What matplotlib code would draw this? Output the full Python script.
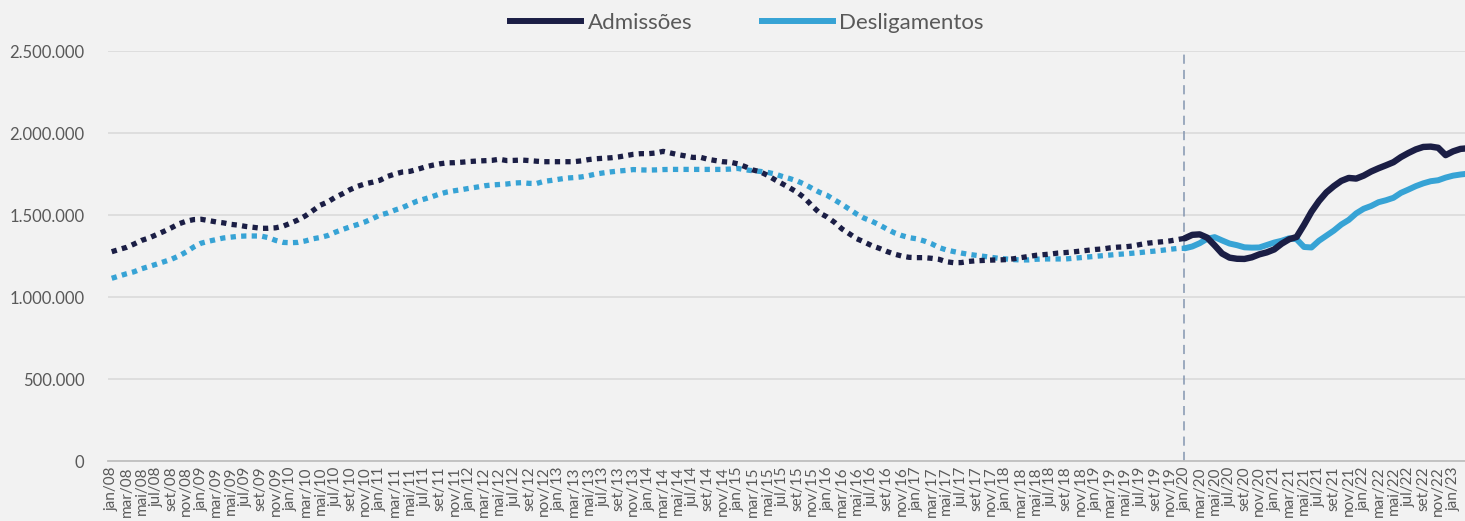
import matplotlib
matplotlib.use("Agg")
import matplotlib.pyplot as plt
from matplotlib.lines import Line2D

# ---------------- data (thousands) ----------------
meses = ["jan", "fev", "mar", "abr", "mai", "jun", "jul", "ago", "set", "out", "nov", "dez"]
anos = list(range(2008, 2024))
periodos = [f"{m}/{str(a)[2:]}" for a in anos for m in meses][:183]

admissoes_mil = [
    1276, 1290, 1303, 1323, 1345, 1360, 1380, 1400, 1422, 1446,
    1462, 1472, 1474, 1466, 1458, 1452, 1443, 1438, 1430, 1425,
    1419, 1419, 1422, 1432, 1450, 1470, 1495, 1527, 1560, 1580,
    1608, 1630, 1655, 1675, 1690, 1700, 1712, 1735, 1750, 1762,
    1766, 1778, 1792, 1803, 1812, 1818, 1819, 1822, 1826, 1829,
    1831, 1833, 1840, 1832, 1833, 1835, 1832, 1828, 1825, 1825,
    1825, 1825, 1825, 1830, 1838, 1843, 1846, 1849, 1854, 1862,
    1870, 1874, 1874, 1878, 1888, 1878, 1868, 1860, 1851, 1852,
    1840, 1832, 1825, 1822, 1812, 1795, 1775, 1764, 1742, 1715,
    1690, 1665, 1638, 1603, 1555, 1512, 1488, 1455, 1415, 1385,
    1355, 1335, 1313, 1297, 1278, 1262, 1250, 1242, 1240, 1240,
    1236, 1230, 1215, 1209, 1210, 1217, 1221, 1223, 1225, 1226,
    1228, 1233, 1240, 1247, 1254, 1258, 1262, 1268, 1271, 1275,
    1280, 1285, 1290, 1293, 1300, 1304, 1306, 1311, 1320, 1328,
    1333, 1337, 1342, 1350,
    1358, 1379, 1382, 1362, 1315, 1265, 1240, 1233, 1232, 1242,
    1260, 1272, 1290, 1325, 1352, 1366, 1440, 1520, 1585, 1638,
    1676, 1708, 1726, 1722, 1740, 1765, 1785, 1803, 1822, 1853,
    1878, 1900, 1915, 1917, 1910, 1865, 1888, 1903, 1907,
]

desligamentos_mil = [
    1114, 1128, 1142, 1154, 1172, 1186, 1200, 1215, 1230, 1250,
    1275, 1305, 1328, 1340, 1350, 1360, 1365, 1370, 1372, 1372,
    1372, 1362, 1345, 1333, 1331, 1333, 1342, 1355, 1363, 1375,
    1395, 1412, 1428, 1442, 1458, 1478, 1500, 1512, 1530, 1545,
    1565, 1585, 1598, 1612, 1628, 1640, 1648, 1655, 1663, 1670,
    1678, 1683, 1686, 1689, 1695, 1697, 1693, 1692, 1705, 1711,
    1718, 1725, 1728, 1732, 1740, 1750, 1757, 1763, 1768, 1772,
    1777, 1775, 1774, 1775, 1777, 1778, 1778, 1778, 1778, 1778,
    1778, 1778, 1778, 1780, 1784, 1776, 1770, 1766, 1760, 1750,
    1735, 1722, 1707, 1687, 1662, 1638, 1620, 1592, 1565, 1535,
    1505, 1480, 1462, 1440, 1415, 1392, 1375, 1362, 1355, 1342,
    1325, 1302, 1287, 1277, 1268, 1260, 1254, 1248, 1242, 1236,
    1232, 1228, 1226, 1226, 1230, 1232, 1232, 1232, 1232, 1236,
    1240, 1244, 1248, 1252, 1256, 1260, 1263, 1267, 1271, 1276,
    1280, 1285, 1291, 1296,
    1297, 1308, 1328, 1355, 1365, 1345, 1326, 1316, 1303, 1301,
    1302, 1317, 1332, 1343, 1358, 1352, 1305, 1302, 1343, 1374,
    1405, 1442, 1470, 1510, 1538, 1555, 1578, 1590, 1605, 1635,
    1655, 1676, 1693, 1706, 1712, 1728, 1740, 1747, 1752,
]

inicio_novo = "jan/20"   # series break (dotted before, solid after)
series_labels = ["Admissões", "Desligamentos"]

# ---------------- style ----------------
BG = "#f2f2f2"
DARK = "#1b1e45"
LIGHT = "#37a3d5"
GRID = "#d9d9d9"
TXT = "#595959"
FONT = "Lato"

plt.rcParams["font.family"] = [FONT, "DejaVu Sans"]

fig = plt.figure(figsize=(14.65, 5.21), dpi=100, facecolor=BG)
ax = fig.add_axes([108 / 1465, 60 / 521, 1 - 108 / 1465, 410 / 521])
ax.set_facecolor(BG)

x = list(range(len(periodos)))
br = periodos.index(inicio_novo)

adm = [v * 1000 for v in admissoes_mil]
des = [v * 1000 for v in desligamentos_mil]

dot = dict(linestyle=(0, (1, 1)), dash_capstyle="butt", solid_capstyle="butt")
ax.plot(x[:br + 1], des[:br + 1], color=LIGHT, lw=3.8, zorder=3, **dot)
ax.plot(x[:br + 1], adm[:br + 1], color=DARK, lw=3.8, zorder=4, **dot)
ax.plot(x[br:], des[br:], color=LIGHT, lw=4.3, zorder=3, solid_joinstyle="round", solid_capstyle="round")
ax.plot(x[br:], adm[br:], color=DARK, lw=4.6, zorder=4, solid_joinstyle="round", solid_capstyle="round")

ax.axvline(br - 0.1, color="#8496b0", lw=1.1, ls=(0, (6, 4)), zorder=2)

ax.set_ylim(0, 2_500_000)
ax.set_xlim(-0.5, 181.6)
yt = [0, 500_000, 1_000_000, 1_500_000, 2_000_000, 2_500_000]
ax.set_yticks(yt)
ax.set_yticklabels([f"{v:,}".replace(",", ".") for v in yt], color=TXT, fontsize=12)
ax.yaxis.grid(True, color=GRID, lw=1.1)
ax.set_axisbelow(True)

ax.set_xticks(x[:181:2])
ax.set_xticklabels(periodos[:181:2], rotation=90, color=TXT, fontsize=11)
ax.tick_params(axis="both", length=0)
ax.tick_params(axis="y", pad=17)
ax.tick_params(axis="x", pad=4)

for s in ["top", "right", "left"]:
    ax.spines[s].set_visible(False)
ax.spines["bottom"].set_color("#bfbfbf")
ax.spines["bottom"].set_linewidth(1.3)

handles = [Line2D([], [], color=DARK, lw=4.3), Line2D([], [], color=LIGHT, lw=4.3)]
fig.legend(handles, series_labels, loc="center", bbox_to_anchor=(747 / 1465, 1 - 23 / 521),
           ncol=2, frameon=False, fontsize=16, handlelength=3.2, handletextpad=0.3,
           columnspacing=3.1, labelcolor=TXT)

fig.savefig("out.png", dpi=100, facecolor=BG)
